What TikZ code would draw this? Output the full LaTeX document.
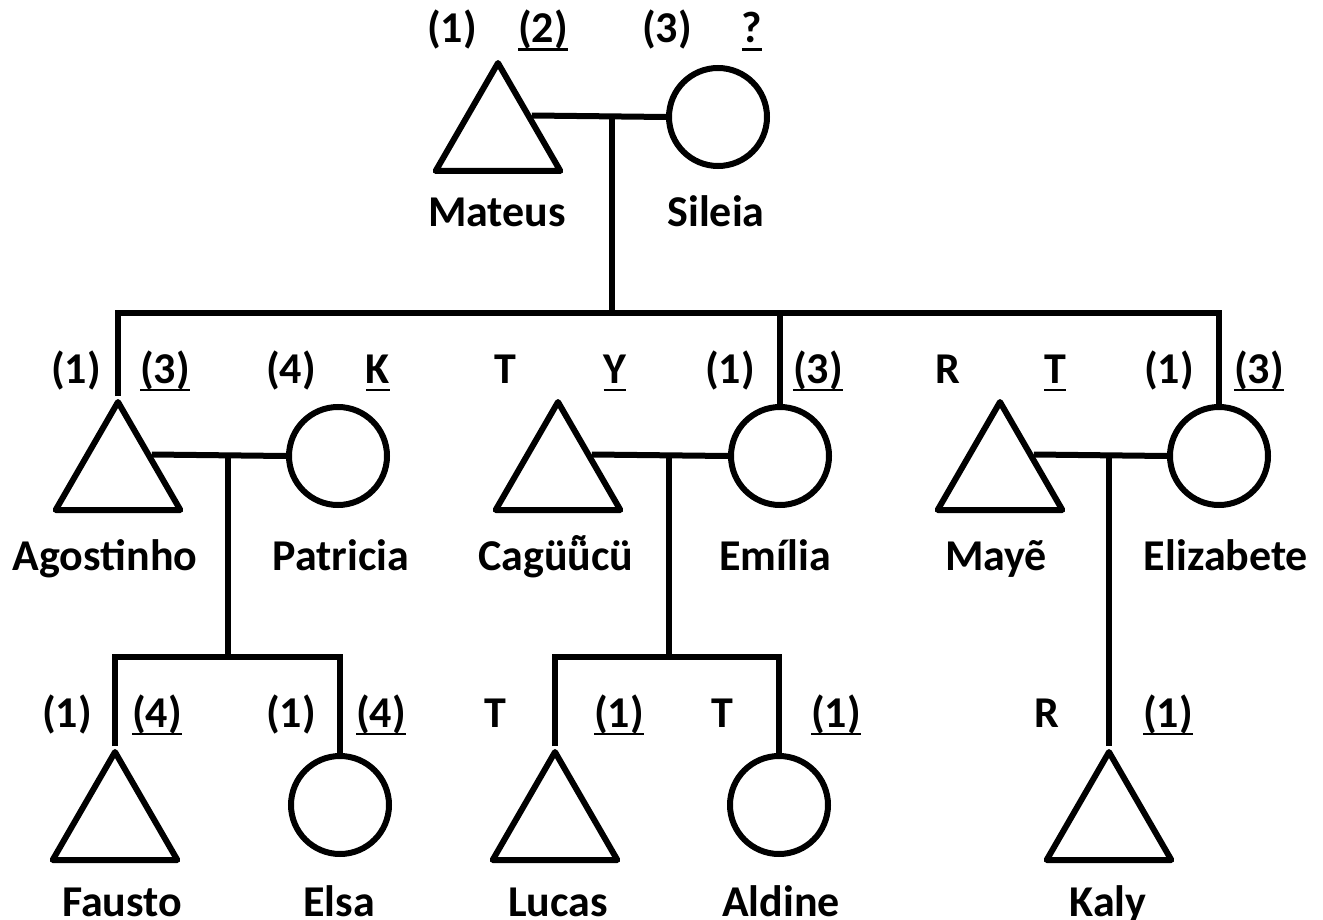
\documentclass[tikz,border=0pt]{standalone}
\usepackage{fontspec}
\setmainfont{Carlito}
\usetikzlibrary{shapes.geometric}
\newcommand\uln[1]{\setbox0\hbox{#1}\rlap{\rule[-8pt]{\wd0}{2.5pt}}\box0}
\newcommand\util{\setbox2\hbox{ü}\rlap{\hbox to\wd2{\hss\raisebox{5pt}{\char"02DC}\hss}}\box2}
\begin{document}
\begin{tikzpicture}[x=1pt,y=-1pt,
  male/.style={regular polygon,regular polygon sides=3,minimum size=144pt,inner sep=0pt,draw,line width=6pt,line join=round},
  female/.style={circle,minimum size=98pt,inner sep=0pt,draw,line width=6pt},
  link/.style={line width=6pt},
  lab/.style={anchor=base,inner sep=0pt,font=\fontsize{44}{50}\selectfont\bfseries}]
\useasboundingbox (0,0) rectangle (1323,920);
% persons
\node[male] (mateus) at (498,135) {};
\node[female] (sileia) at (718,117) {};
\node[male] (agostinho) at (118,474) {};
\node[female] (patricia) at (338,456) {};
\node[male] (cagu) at (558,474) {};
\node[female] (emilia) at (780,456) {};
\node[male] (maye) at (1000,474) {};
\node[female] (elizabete) at (1219,456) {};
\node[male] (fausto) at (115,824) {};
\node[female] (elsa) at (340,805) {};
\node[male] (lucas) at (555,824) {};
\node[female] (aldine) at (779,805) {};
\node[male] (kaly) at (1109,824) {};
% junctions
\coordinate (j0) at (612,117);
\coordinate (b0) at (612,313);
\coordinate (j1) at (228,456);
\coordinate (b1) at (228,657);
\coordinate (j2) at (669,456);
\coordinate (b2) at (669,657);
\coordinate (j3) at (1109,456);
% connectors
\draw[link] (mateus.side 3) -- (sileia.west);
\draw[link] (j0) -- (b0);
\draw[link] (agostinho.corner 1) -- (agostinho.corner 1 |- b0) -- (elizabete.north |- b0) -- (elizabete.north);
\draw[link] (emilia.north) -- (emilia.north |- b0);
\draw[link] (agostinho.side 3) -- (patricia.west);
\draw[link] (cagu.side 3) -- (emilia.west);
\draw[link] (maye.side 3) -- (elizabete.west);
\draw[link] (j1) -- (b1);
\draw[link] (fausto.corner 1) -- (fausto.corner 1 |- b1) -- (elsa.north |- b1) -- (elsa.north);
\draw[link] (j2) -- (b2);
\draw[link] (lucas.corner 1) -- (lucas.corner 1 |- b2) -- (aldine.north |- b2) -- (aldine.north);
\draw[link] (j3) -- (kaly.corner 1);
% names
\node[lab] (nmateus) at (497,227) {Mateus};
\node[lab] (nsileia) at (716,227) {Sileia};
\node[lab] (nagostinho) at (105,570) {Agostinho};
\node[lab] (npatricia) at (341,570) {Patricia};
\node[lab] (ncagu) at (556,570) {Cagü\util cü};
\node[lab] (nemilia) at (775,570) {Emília};
\node[lab] (nmaye) at (996,570) {Mayẽ};
\node[lab] (nelizabete) at (1226,570) {Elizabete};
\node[lab] (nfausto) at (122,916) {Fausto};
\node[lab] (nelsa) at (339,916) {Elsa};
\node[lab] (nlucas) at (558,916) {Lucas};
\node[lab] (naldine) at (781,916) {Aldine};
\node[lab] (nkaly) at (1108,916) {Kaly};
% labels row 1
\node[lab] (l1a) at (452,43) {(1)};
\node[lab] (l1b) at (543,43) {\uln{(2)}};
\node[lab] (l1c) at (667,43) {(3)};
\node[lab] (l1d) at (752,43) {\uln{?}};
% labels row 2
\node[lab] (l2a) at (76,383) {(1)};
\node[lab] (l2b) at (165,383) {\uln{(3)}};
\node[lab] (l2c) at (291,383) {(4)};
\node[lab] (l2d) at (378,383) {\uln{K}};
\node[lab] (l2e) at (505,383) {T};
\node[lab] (l2f) at (615,383) {\uln{Y}};
\node[lab] (l2g) at (730,383) {(1)};
\node[lab] (l2h) at (818,383) {\uln{(3)}};
\node[lab] (l2i) at (948,383) {R};
\node[lab] (l2j) at (1055,383) {\uln{T}};
\node[lab] (l2k) at (1169,383) {(1)};
\node[lab] (l2l) at (1259,383) {\uln{(3)}};
% labels row 3
\node[lab] (l3a) at (67,727) {(1)};
\node[lab] (l3b) at (157,727) {\uln{(4)}};
\node[lab] (l3c) at (291,727) {(1)};
\node[lab] (l3d) at (381,727) {\uln{(4)}};
\node[lab] (l3e) at (495,727) {T};
\node[lab] (l3f) at (619,727) {\uln{(1)}};
\node[lab] (l3g) at (722,727) {T};
\node[lab] (l3h) at (836,727) {\uln{(1)}};
\node[lab] (l3i) at (1047,727) {R};
\node[lab] (l3j) at (1168,727) {\uln{(1)}};
\end{tikzpicture}
\end{document}
